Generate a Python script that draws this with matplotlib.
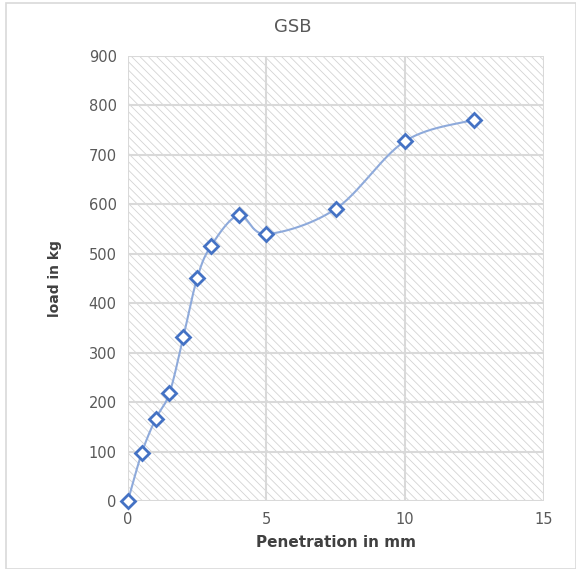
import numpy as np
import matplotlib.pyplot as plt
from matplotlib.patches import Rectangle

# Datos
penetration = [0, 0.5, 1, 1.5, 2, 2.5, 3, 4, 5, 7.5, 10, 12.5]
load = [0, 97, 166, 218, 332, 451, 516, 578, 540, 591, 728, 771]
x_ticks = [0, 5, 10, 15]
y_ticks = [0, 100, 200, 300, 400, 500, 600, 700, 800, 900]


def smooth_curve(x, y, n=30):
    # curva suavizada tipo Excel (Catmull-Rom)
    x = np.asarray(x, float)
    y = np.asarray(y, float)
    px = np.concatenate([[x[0]], x, [x[-1]]])
    py = np.concatenate([[y[0]], y, [y[-1]]])
    xs, ys = [], []
    for i in range(1, len(px) - 2):
        p0, p1, p2, p3 = (np.array([px[j], py[j]]) for j in range(i - 1, i + 3))
        c1 = p1 + (p2 - p0) / 6
        c2 = p2 - (p3 - p1) / 6
        t = np.linspace(0, 1, n)[:, None]
        b = ((1 - t) ** 3) * p1 + 3 * ((1 - t) ** 2) * t * c1 + 3 * (1 - t) * t ** 2 * c2 + t ** 3 * p2
        xs.extend(b[:, 0])
        ys.extend(b[:, 1])
    return xs, ys


plt.rcParams['hatch.color'] = '#d3d3d3'
plt.rcParams['hatch.linewidth'] = 0.6

fig = plt.figure(figsize=(5.76, 5.69), dpi=100)
ax = fig.add_axes([0.222, 0.1195, 0.722, 0.782])

# fondo rayado
ax.add_patch(Rectangle((0, 0), 1, 1, transform=ax.transAxes, facecolor='white',
                       edgecolor='#d3d3d3', hatch='\\\\\\\\', linewidth=0, zorder=0))

sx, sy = smooth_curve(penetration, load)
ax.plot(sx, sy, color='#8eaadb', linewidth=1.5, zorder=3)
ax.plot(penetration, load, linestyle='none', marker='D', markersize=7,
        markerfacecolor='white', markeredgecolor='#4472c4', markeredgewidth=2,
        zorder=4, clip_on=False)

ax.set_xlim(0, 15)
ax.set_ylim(0, 900)
ax.set_xticks(x_ticks)
ax.set_yticks(y_ticks)
ax.grid(True, color='#d9d9d9', linewidth=1.5, zorder=1)
ax.set_axisbelow(True)
for s in ax.spines.values():
    s.set_visible(False)
ax.tick_params(length=0, labelsize=10.5, labelcolor='#595959', pad=8)

fig.text(0.508, 0.952, 'GSB', color='#595959', fontsize=13, ha='center', va='center')
ax.set_xlabel('Penetration in mm', fontweight='bold', color='#404040', fontsize=11, labelpad=6)
ax.set_ylabel('load in kg', fontweight='bold', color='#404040', fontsize=10, labelpad=19)

# borde del grafico
fig.patches.append(Rectangle((0.011, 0.0), 0.989, 0.995, transform=fig.transFigure,
                             fill=False, edgecolor='#d9d9d9', linewidth=1.2))

fig.savefig('out.png', dpi=100)
